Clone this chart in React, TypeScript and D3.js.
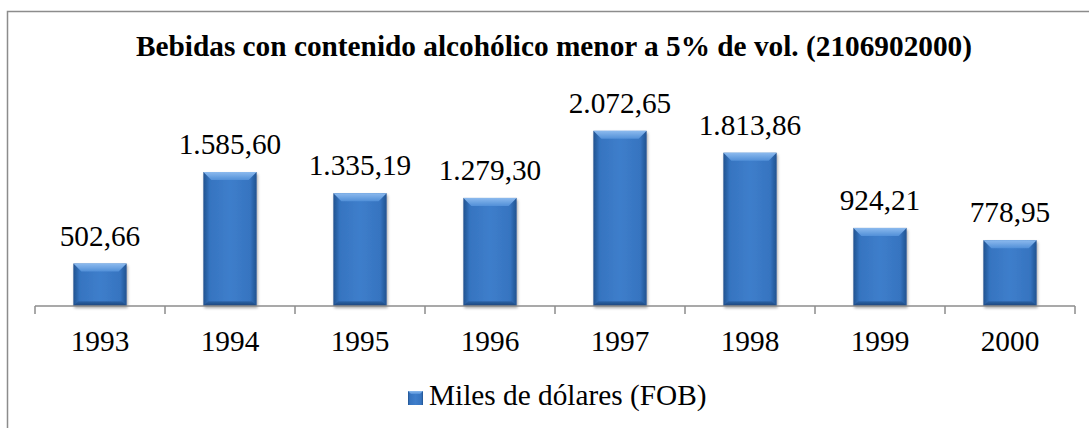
import React from "react";
import * as d3 from "d3";

const title = "Bebidas con contenido alcohólico menor a 5% de vol. (2106902000)";
const categories = ["1993", "1994", "1995", "1996", "1997", "1998", "1999", "2000"];
const values = [502.66, 1585.6, 1335.19, 1279.3, 2072.65, 1813.86, 924.21, 778.95];
const seriesName = "Miles de dólares (FOB)";

const W = 1089;
const H = 428;
const FONT = "Liberation Serif, Times New Roman, Times, serif";
const FS = 29.3;

const fmt = (v: number) => {
  const [i, d] = v.toFixed(2).split(".");
  return i.replace(/\B(?=(\d{3})+(?!\d))/g, ".") + "," + d;
};

export default function App() {
  const x = d3.scaleBand<string>().domain(categories).range([35, 1075]).paddingInner(0.59).paddingOuter(0.295);
  const y = d3.scaleLinear().domain([0, 2500]).range([306, 94.75]);
  const bw = x.bandwidth();
  const ticks = d3.range(categories.length + 1).map((i) => 35 + (1040 / categories.length) * i);
  const bev = 8;

  return (
    <svg width={W} height={H} style={{ position: "absolute", left: 0, top: 0, fontFamily: FONT }}>
      <defs>
        <linearGradient id="barH" x1="0" x2="1" y1="0" y2="0">
          <stop offset="0" stopColor="#21528f" />
          <stop offset="0.12" stopColor="#3674c0" />
          <stop offset="0.5" stopColor="#3e7ecb" />
          <stop offset="0.88" stopColor="#3674c0" />
          <stop offset="1" stopColor="#21528f" />
        </linearGradient>
        <linearGradient id="bevTop" x1="0" x2="0" y1="0" y2="1">
          <stop offset="0" stopColor="#8cbaee" />
          <stop offset="1" stopColor="#5290d8" />
        </linearGradient>
        <linearGradient id="bevBot" x1="0" x2="0" y1="0" y2="1">
          <stop offset="0" stopColor="#2d63a8" />
          <stop offset="1" stopColor="#1a4378" />
        </linearGradient>
        <filter id="sh" x="-20%" y="-20%" width="140%" height="140%">
          <feGaussianBlur in="SourceAlpha" stdDeviation="1.5" />
          <feOffset dx="1" dy="1.5" result="b" />
          <feComponentTransfer>
            <feFuncA type="linear" slope="0.35" />
          </feComponentTransfer>
          <feMerge>
            <feMergeNode />
            <feMergeNode in="SourceGraphic" />
          </feMerge>
        </filter>
      </defs>
      <rect x={7.5} y={11.5} width={1200} height={500} fill="#fff" stroke="#8c8c8c" strokeWidth={1.5} />
      <text x={554} y={56} textAnchor="middle" fontWeight="bold" fontSize={FS} fill="#000">
        {title}
      </text>
      {categories.map((c, i) => {
        const x0 = x(c)!;
        const y0 = y(values[i]);
        const y1 = y(0);
        const h = y1 - y0;
        const b = Math.min(bev, h / 3);
        return (
          <g key={c} filter="url(#sh)">
            <rect x={x0} y={y0} width={bw} height={h} fill="url(#barH)" />
            <path
              d={`M${x0},${y0}L${x0 + bw},${y0}L${x0 + bw - b},${y0 + b}L${x0 + b},${y0 + b}Z`}
              fill="url(#bevTop)"
            />
            <path
              d={`M${x0},${y1}L${x0 + bw},${y1}L${x0 + bw - b * 0.6},${y1 - b * 0.6}L${x0 + b * 0.6},${y1 - b * 0.6}Z`}
              fill="url(#bevBot)"
            />
          </g>
        );
      })}
      {categories.map((c, i) => (
        <text key={"l" + c} x={x(c)! + bw / 2} y={y(values[i]) - 18} textAnchor="middle" fontSize={FS} fill="#000">
          {fmt(values[i])}
        </text>
      ))}
      <line x1={35} x2={1075} y1={306} y2={306} stroke="#8c8c8c" strokeWidth={1.5} />
      {ticks.map((t, i) => (
        <line key={"t" + i} x1={t} x2={t} y1={306} y2={314} stroke="#8c8c8c" strokeWidth={1.5} />
      ))}
      {categories.map((c) => (
        <text key={"c" + c} x={x(c)! + bw / 2} y={351} textAnchor="middle" fontSize={FS} fill="#000">
          {c}
        </text>
      ))}
      <g>
        <rect x={408} y={391} width={15} height={14} fill="url(#barH)" />
        <path d="M408,391L423,391L420,394L411,394Z" fill="url(#bevTop)" />
        <text x={429} y={405} fontSize={FS} fill="#000">
          {seriesName}
        </text>
      </g>
    </svg>
  );
}
